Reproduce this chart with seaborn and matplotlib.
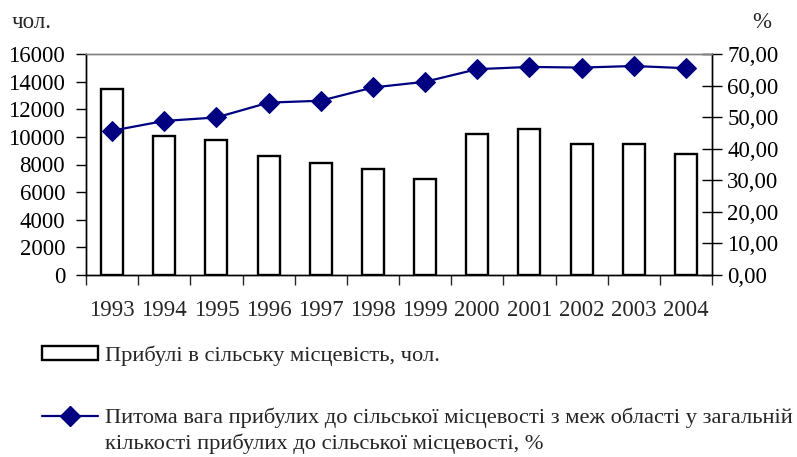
import numpy as np
import pandas as pd
import matplotlib
matplotlib.use("Agg")
import matplotlib.pyplot as plt
from matplotlib.patches import Patch
from matplotlib.lines import Line2D
from matplotlib.ticker import FixedLocator, FuncFormatter
import seaborn as sns

# Data
years = ["1993", "1994", "1995", "1996", "1997", "1998",
         "1999", "2000", "2001", "2002", "2003", "2004"]
arrivals = [13500, 10050, 9800, 8650, 8120, 7640,
            6920, 10200, 10560, 9500, 9500, 8730]
share_pct = [45.7, 48.8, 49.9, 54.6, 55.2, 59.4,
             61.2, 65.2, 65.9, 65.7, 66.2, 65.5]

bar_label = "Прибулі в сільську місцевість, чол."
line_label_1 = "Питома вага прибулих до сільської місцевості з меж області у загальній"
line_label_2 = "кількості прибулих до сільської місцевості, %"

sns.set_style("ticks")
plt.rcParams["font.family"] = ["Liberation Serif", "DejaVu Serif"]
FS = 16.5
LEG_FS = 16.2
NAVY = "#000080"

df = pd.DataFrame({"year": years, "arrivals": arrivals, "share": share_pct})

fig = plt.figure(figsize=(7.97, 4.57), dpi=100)
ax = fig.add_axes([86 / 797, 1 - 275 / 457, (712 - 86) / 797, (275 - 54) / 457])

sns.barplot(data=df, x="year", y="arrivals", ax=ax, color="white",
            edgecolor="black", linewidth=1.7, width=0.42, saturation=1)
for p in ax.patches:
    p.set_facecolor("white")

ax.set_xlim(-0.5, 11.5)
ax.set_ylim(0, 16000)
ax.set_yticks(np.arange(0, 16001, 2000))
ax.set_xlabel("")
ax.set_ylabel("")
ax.tick_params(axis="y", direction="out", length=7, width=1, pad=8,
               labelsize=FS, colors="black")
ax.tick_params(axis="x", which="major", length=0, pad=18, labelsize=FS)
ax.xaxis.set_minor_locator(FixedLocator(np.arange(-0.5, 12, 1.0)))
ax.tick_params(axis="x", which="minor", direction="out", length=7, width=1)

ax2 = ax.twinx()
ax2.set_position(ax.get_position())
sns.lineplot(x=np.arange(len(years)), y=share_pct, ax=ax2, color=NAVY,
             linewidth=1.6, marker="D", markersize=10, markeredgecolor=NAVY,
             markerfacecolor=NAVY)
ax2.set_xlim(-0.5, 11.5)
ax2.set_ylim(0, 70)
ax2.set_yticks(np.arange(0, 71, 10))
ax2.yaxis.set_major_formatter(FuncFormatter(lambda v, _: f"{v:.2f}".replace(".", ",")))
ax2.tick_params(axis="y", direction="inout", length=14, width=1, pad=4,
                labelsize=FS, colors="black")
ax2.set_ylabel("")

for a in (ax, ax2):
    for side in ("left", "right", "bottom"):
        a.spines[side].set_color("black")
        a.spines[side].set_linewidth(1)
    a.spines["top"].set_color("#808080")
    a.spines["top"].set_linewidth(1)

# Axis unit captions
fig.text(12 / 797, 1 - 23 / 457, "чол.", fontsize=FS, ha="left", va="center")
fig.text(762 / 797, 1 - 23 / 457, "%", fontsize=FS, ha="center", va="center")

# Legend entries
bar_handle = Patch(facecolor="white", edgecolor="black", linewidth=1.7)
leg1 = fig.legend(handles=[bar_handle], labels=[bar_label], loc="center left",
                  bbox_to_anchor=(42 / 797, 1 - 356 / 457), frameon=False,
                  fontsize=LEG_FS, handlelength=2.5, handleheight=0.6,
                  handletextpad=0.3, borderpad=0, borderaxespad=0)
line_handle = Line2D([], [], color=NAVY, linewidth=1.6, marker="D",
                     markersize=10, markerfacecolor=NAVY, markeredgecolor=NAVY)
leg2 = fig.legend(handles=[line_handle], labels=[line_label_1], loc="center left",
                  bbox_to_anchor=(42 / 797, 1 - 418 / 457), frameon=False,
                  fontsize=LEG_FS, handlelength=2.5, handletextpad=0.3,
                  borderpad=0, borderaxespad=0)
fig.text(105 / 797, 1 - 444 / 457, line_label_2, fontsize=LEG_FS,
         ha="left", va="center")

fig.savefig("out.png", dpi=100)
